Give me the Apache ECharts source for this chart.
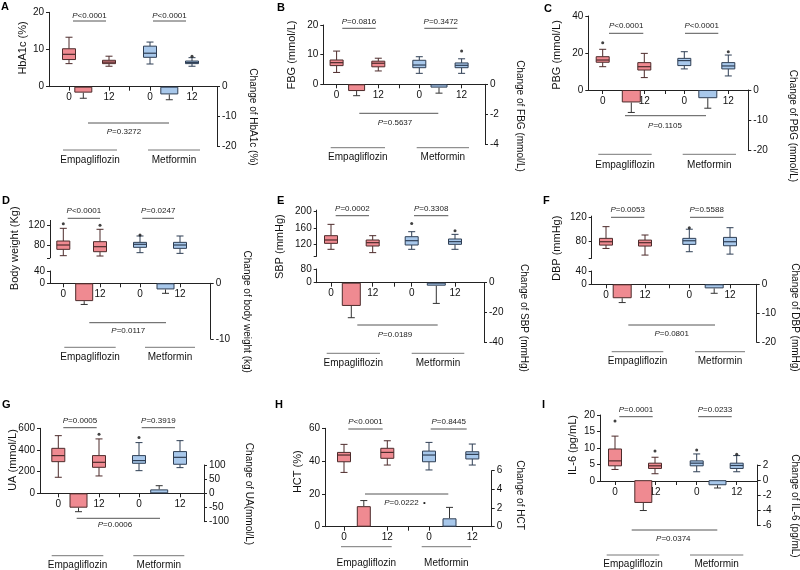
<!DOCTYPE html>
<html>
<head>
<meta charset="utf-8">
<script src="https://cdn.jsdelivr.net/npm/echarts@6/dist/echarts.min.js"></script>
<style>
html,body{margin:0;padding:0;background:#fff;}
#chart{width:800px;height:570px;}
</style>
</head>
<body>
<div id="chart"></div>
<script>
// ---------------- DATA ----------------
const weeks = ['0', '12'];
const groups = ['Empagliflozin', 'Metformin'];

// box data per panel: [min, Q1, median, Q3, max] for Empa 0, Empa 12, Met 0, Met 12
const hba1cBox = [[6.2,7.3,8.7,10.2,13.3],[5.5,6.2,6.6,7.1,8.2],[6.1,7.9,9.0,10.9,12.0],[5.5,6.2,6.5,6.9,7.8]];
const hba1cOut = [[3,8.2]];
const hba1cChange = [-2.0,-2.6];
const hba1cSD = [1.9,1.8];
const hba1cP = ['<0.0001','<0.0001','=0.3272'];

const fbgBox = [[4.0,6.3,7.3,8.2,11.2],[4.5,5.9,7.1,7.8,8.8],[3.7,5.6,6.5,8.1,9.3],[3.7,5.6,6.4,7.2,8.6]];
const fbgOut = [[3,11.2]];
const fbgChange = [-0.45,-0.22];
const fbgSD = [0.31,0.37];
const fbgP = ['=0.0816','=0.3472','=0.5637'];

const pbgBox = [[12.6,15.0,16.2,18.0,22.0],[6.7,10.8,12.6,14.8,19.8],[11.4,13.2,15.9,17.1,20.7],[7.6,11.4,13.0,14.8,18.9]];
const pbgOut = [[0,25.6],[3,20.7]];
const pbgChange = [-4.1,-2.7];
const pbgSD = [3.3,3.3];
const pbgP = ['<0.0001','<0.0001','=0.1105'];

const weightBox = [[58.3,71.2,80,88.1,113.9],[57.6,66.4,76.6,86.8,111.9],[64.4,75.3,81.4,85.4,98.3],[63,73.2,80,85.4,98.3]];
const weightOut = [[0,123.4],[1,120],[2,100.3]];
const weightChange = [-3.2,-1.1];
const weightSD = [0.6,0.7];
const weightP = ['<0.0001','=0.0247','=0.0117'];

const sbpBox = [[106.8,121.6,129.9,140.6,168.7],[98.6,115,123.3,129.9,140.6],[106.8,117.5,128.2,138.1,150.5],[106.8,119.2,125.8,132.4,143.9]];
const sbpOut = [[2,171.1],[3,153]];
const sbpChange = [-15.6,-2.0];
const sbpSD = [7.9,11.9];
const sbpP = ['=0.0002','=0.3308','=0.0189'];

const dbpBox = [[69.0,74.5,80,85.5,104.7],[58.1,72.9,78.4,82.7,91],[63.6,75.6,81.6,85.5,100.5],[59.7,73.4,80,87.1,103]];
const dbpOut = [[2,102.8]];
const dbpChange = [-4.8,-1.4];
const dbpSD = [1.5,1.7];
const dbpP = ['=0.0053','=0.5588','=0.0801'];

const uaBox = [[148,292,348,415,532],[160,240,286,348,502],[209,277,302,348,468],[237,268,332,385,486]];
const uaOut = [[1,545],[2,514]];
const uaChange = [-50.6,14];
const uaSD = [14.1,13];
const uaP = ['=0.0005','=0.3919','=0.0006'];

const hctBox = [[33.1,39.6,43.7,45.3,50.2],[37.6,41.7,45.3,47.8,52.4],[34.6,39.6,43.7,46.1,51.4],[37.6,41.3,44.1,45.7,50.4]];
const hctOut = [];
const hctChange = [2.2,0.9];
const hctSD = [0.6,1.17];
const hctP = ['<0.0001','=0.8445','=0.0222'];

const il6Box = [[3.5,4.6,6.1,9.7,13.6],[2.2,3.8,4.6,5.4,7.2],[2.8,4.6,5.4,6.1,8.2],[2.8,3.8,4.7,5.4,7.7]];
const il6Out = [[0,18.2],[1,9.1],[2,9.4],[3,8.1]];
const il6Change = [-3.0,-0.67];
const il6SD = [1.0,0.36];
const il6P = ['=0.0001','=0.0233','=0.0374'];

// ---------------- LAYOUT / STYLE ----------------
const FONT = '"Liberation Sans", Arial, Helvetica, sans-serif';
const AX = '#222';
const EMPA_FILL = '#ef8a91', EMPA_STROKE = '#4d2b2b';
const MET_FILL = '#a8c8eb', MET_STROKE = '#2f3f55';

const panels = [
 {letter:'A', lp:[1,1], xL:49, xR:217, xs:[20,34.3,60,80.3,101,120.3,143],
  segs:[{min:0,max:20,top:12.3,bot:86.7,interval:10}], bar:{min:-20,max:0,top:86.7,bot:146,interval:10}, barW:18,
  yTitle:['HbA1c (%)',23,48], rTitle:['Change of HbA1c (%)',253,117],
  pTop:{ty:16,ly:21,segs:[[73,106],[153,186]]}, pBot:{ly:123,x:[88,169],ty:132,tx:124},
  grp:{ly:150,ty:160,segs:[[63,117],[148,200]]},
  box:hba1cBox, out:hba1cOut, chg:hba1cChange, sd:hba1cSD, p:hba1cP},
 {letter:'B', lp:[277,2], xL:323.3, xR:485, xs:[13.3,33.3,55,75.7,96,115.7,138.3],
  segs:[{min:0,max:20,top:25,bot:84.3,interval:10}], bar:{min:-4,max:0,top:84.3,bot:144.3,interval:2}, barW:17,
  yTitle:['FBG (mmol/L)',291.7,55], rTitle:['Change of FBG (mmol/L)',520,116],
  pTop:{ty:21.7,ly:28.3,segs:[[342.3,375.7],[424.3,457.3]]}, pBot:{ly:113.3,x:[359.3,438.3],ty:122.3,tx:395},
  grp:{ly:147.7,ty:157.7,segs:[[330.7,385],[416.7,469]]},
  box:fbgBox, out:fbgOut, chg:fbgChange, sd:fbgSD, p:fbgP},
 {letter:'C', lp:[544,3], xL:588.3, xR:748.3, xs:[14.4,43,56,76.7,96,119.5,140],
  segs:[{min:0,max:40,top:16,bot:90,interval:20}], bar:{min:-20,max:0,top:90,bot:150.7,interval:10}, barW:19,
  yTitle:['PBG (mmol/L)',556.7,55], rTitle:['Change of PBG (mmol/L)',793,126],
  pTop:{ty:26,ly:33.3,segs:[[609,643.3],[685,718.3]]}, pBot:{ly:115.7,x:[625,706],ty:125.7,tx:665},
  grp:{ly:154.3,ty:165,segs:[[598.3,651.7],[682.7,736]]},
  box:pbgBox, out:pbgOut, chg:pbgChange, sd:pbgSD, p:pbgP},
 {letter:'D', lp:[2,195], xL:50, xR:210.7, xs:[13.3,34.2,50,70.7,90,115.5,130],
  segs:[{min:54,max:130,top:220.4,bot:257.8,ticks:[54,80,120],labels:[80,120]},{min:0,max:40,top:271,bot:283.3,interval:40}],
  bar:{min:-10,max:0,top:283.3,bot:339,interval:10}, barW:18,
  yTitle:['Body weight (Kg)',15,248.3], rTitle:['Change of body weight (kg)',246.7,311.7],
  pTop:{ty:211,ly:218.3,segs:[[67.7,100],[142.3,174]]}, pBot:{ly:322.7,x:[89.3,166],ty:330.7,tx:128.3},
  grp:{ly:347.3,ty:357.3,segs:[[64.3,115.7],[145,195]]},
  box:weightBox, out:weightOut, chg:weightChange, sd:weightSD, p:weightP},
 {letter:'E', lp:[277,195], xL:316.7, xR:484, xs:[14.3,34.6,56,77.3,95,119.6,138.3],
  segs:[{min:90,max:204,top:210.1,bot:256.1,ticks:[90,120,160,200],labels:[120,160,200]},{min:0,max:80,top:269,bot:282.7,interval:80}],
  bar:{min:-40,max:0,top:282.7,bot:342.3,interval:20}, barW:19,
  yTitle:['SBP (mmHg)',280,246.7], rTitle:['Change of SBP (mmHg)',523.3,318],
  pTop:{ty:208.3,ly:215.7,segs:[[335.7,369],[414,448.3]]}, pBot:{ly:325,x:[357.3,437.7],ty:334.3,tx:395},
  grp:{ly:353.3,ty:363.3,segs:[[326.7,380],[411.7,464.3]]},
  box:sbpBox, out:sbpOut, chg:sbpChange, sd:sbpSD, p:sbpP},
 {letter:'F', lp:[543,195], xL:591.7, xR:756.7, xs:[14.3,30.5,53.3,77.6,97.6,122.5,138.3],
  segs:[{min:53,max:122,top:216.1,bot:258.2,ticks:[53,80,120],labels:[80,120]},{min:0,max:40,top:271,bot:284.3,interval:40}],
  bar:{min:-20,max:0,top:284.3,bot:342.3,interval:10}, barW:19,
  yTitle:['DBP (mmHg)',556.7,248.3], rTitle:['Change of DBP (mmHg)',795,317.5],
  pTop:{ty:210,ly:217.3,segs:[[611,644.3],[690,723.3]]}, pBot:{ly:325,x:[628.3,715],ty:333.3,tx:671.7},
  grp:{ly:351.7,ty:361.7,segs:[[611.7,663.3],[695,745]]},
  box:dbpBox, out:dbpOut, chg:dbpChange, sd:dbpSD, p:dbpP},
 {letter:'G', lp:[2,399], xL:40, xR:204, xs:[18.3,38.5,59,79.3,99,119.2,140],
  segs:[{min:0,max:600,top:428.3,bot:493.3,interval:200}], bar:{min:-100,max:100,top:465,bot:521.7,interval:50}, barW:18,
  yTitle:['UA (mmol/L)',13.3,460], rTitle:['Change of UA(mmol/L)',248.3,494],
  pTop:{ty:421,ly:427.7,segs:[[63.3,96.7],[141.7,175]]}, pBot:{ly:518.3,x:[76.7,160],ty:525,tx:115},
  grp:{ly:555.7,ty:565.7,segs:[[51.7,103.3],[133.3,184.3]]},
  box:uaBox, out:uaOut, chg:uaChange, sd:uaSD, p:uaP},
 {letter:'H', lp:[275,399], xL:325, xR:491.7, xs:[19,38.8,62.3,83.3,104,124.5,147.3],
  segs:[{min:0,max:60,top:428.3,bot:526.7,interval:20}], bar:{min:0,max:6,top:470.7,bot:526.7,interval:2}, barW:14,
  yTitle:['HCT (%)',298.3,471.7], rTitle:['Change of HCT',520,495],
  pTop:{ty:421.7,ly:429,segs:[[348.3,382.7],[430.7,466.7]]}, pBot:{ly:494,x:[365,448.3],ty:502.7,tx:405,suffix:'  \u2022'},
  grp:{ly:546.7,ty:563.3,segs:[[341,391.7],[421.7,471]]},
  box:hctBox, out:hctOut, chg:hctChange, sd:hctSD, p:hctP},
 {letter:'I', lp:[542,399], xL:600, xR:757.7, xs:[15,43.3,55,76.7,96.7,117.5,136.7],
  segs:[{min:0,max:20,top:415,bot:481,interval:5}], bar:{min:-6,max:2,top:465,bot:525.7,interval:2}, barW:18,
  yTitle:['IL-6 (pg/mL)',573.3,445], rTitle:['Change of IL-6 (pg/mL)',795,506],
  pTop:{ty:409.3,ly:416.7,segs:[[619.3,652.7],[698.3,731.7]]}, pBot:{ly:530,x:[631.7,717.3],ty:539,tx:673.3},
  grp:{ly:555,ty:564.3,segs:[[606.7,659.3],[690,743.3]]},
  box:il6Box, out:il6Out, chg:il6Change, sd:il6SD, p:il6P}
];

// ---------------- BUILD ----------------
const option = {animation:false, backgroundColor:'#fff', textStyle:{fontFamily:FONT},
  grid:[], xAxis:[], yAxis:[], series:[], graphic:[]};

function addGrid(left, width, top, height){
  option.grid.push({left:left, top:top, width:width, height:height, containLabel:false, show:false});
  return option.grid.length - 1;
}
function xHidden(g, W){
  return {gridIndex:g, type:'value', min:0, max:W, show:false, splitLine:{show:false}};
}
function xShown(g, W, xs){
  const lab = [xs[0], xs[2], xs[4], xs[6]];
  return {gridIndex:g, type:'value', min:0, max:W, position:'bottom',
    axisLine:{show:true, onZero:false, lineStyle:{color:AX, width:1}},
    axisTick:{show:true, length:4, customValues:[xs[0],xs[2],xs[3],xs[4],xs[6]], lineStyle:{color:AX, width:1}},
    axisLabel:{show:true, customValues:lab, fontSize:10, color:'#111', margin:6, fontFamily:FONT,
      formatter:function(v){ return (Math.abs(v-xs[0])<1e-6 || Math.abs(v-xs[4])<1e-6) ? weeks[0] : weeks[1]; }},
    splitLine:{show:false}};
}
function numFmt(v){ v = Number(v); return v < 0 ? '-' + String(Math.abs(v)) : String(v); }
function yDef(g, s, pos){
  const a = {gridIndex:g, type:'value', position:pos, min:s.min, max:s.max,
    axisLine:{show:true, onZero:false, lineStyle:{color:AX, width:1}},
    axisTick:{show:true, length:3, lineStyle:{color:AX, width:1}},
    axisLabel:{show:true, fontSize:10, color:'#111', margin:5, fontFamily:FONT, formatter:numFmt},
    splitLine:{show:false}};
  if (s.ticks){ a.axisTick.customValues = s.ticks; a.axisLabel.customValues = s.labels; }
  else { a.interval = s.interval; }
  return a;
}
function boxRender(fill, stroke){
  return function(params, api){
    const x = api.value(0);
    const p = [1,2,3,4,5].map(function(i){ return api.coord([x, api.value(i)]); });
    const cx = p[0][0], hw = 6.5, cw = 3.5;
    const ls = {stroke:stroke, lineWidth:1};
    return {type:'group', children:[
      {type:'line', shape:{x1:cx,y1:p[4][1],x2:cx,y2:p[3][1]}, style:ls},
      {type:'line', shape:{x1:cx,y1:p[1][1],x2:cx,y2:p[0][1]}, style:ls},
      {type:'line', shape:{x1:cx-cw,y1:p[4][1],x2:cx+cw,y2:p[4][1]}, style:ls},
      {type:'line', shape:{x1:cx-cw,y1:p[0][1],x2:cx+cw,y2:p[0][1]}, style:ls},
      {type:'rect', shape:{x:cx-hw,y:p[3][1],width:2*hw,height:p[1][1]-p[3][1]}, style:{fill:fill, stroke:stroke, lineWidth:1}},
      {type:'line', shape:{x1:cx-hw,y1:p[2][1],x2:cx+hw,y2:p[2][1]}, style:{stroke:stroke, lineWidth:1.2}}
    ]};
  };
}
function errRender(params, api){
  const x = api.value(0);
  const a = api.coord([x, api.value(1)]);
  const b = api.coord([x, api.value(2)]);
  const cw = 3.5, ls = {stroke:'#333', lineWidth:1};
  return {type:'group', children:[
    {type:'line', shape:{x1:a[0],y1:a[1],x2:b[0],y2:b[1]}, style:ls},
    {type:'line', shape:{x1:b[0]-cw,y1:b[1],x2:b[0]+cw,y2:b[1]}, style:ls}
  ]};
}
function txt(text, x, y, size, opts){
  opts = opts || {};
  const el = {type:'text', x:x, y:y, rotation:opts.rot || 0, silent:true, z:10,
    style:{text:text, fontSize:size, fontFamily:FONT, fontWeight:opts.bold?'bold':'normal', fill:opts.color||'#111',
      textAlign:opts.align||'center', textVerticalAlign:opts.valign||'middle',
      align:opts.align||'center', verticalAlign:opts.valign||'middle'}};
  if (opts.rich) el.style.rich = opts.rich;
  option.graphic.push(el);
}
function hline(x1, x2, y, color){
  option.graphic.push({type:'line', silent:true, z:10, shape:{x1:x1,y1:y,x2:x2,y2:y}, style:{stroke:color||'#555', lineWidth:1}});
}
function pText(v){ return '{i|P}' + v; }
const pRich = {i:{fontStyle:'italic', fontSize:8, fontFamily:FONT, fill:'#222'}};

panels.forEach(function(c){
  const W = c.xR - c.xL;
  const segGrids = c.segs.map(function(s){ return addGrid(c.xL, W, s.top, s.bot - s.top); });
  segGrids.forEach(function(g, i){
    option.xAxis.push(i === c.segs.length - 1 ? xShown(g, W, c.xs) : xHidden(g, W));
    option.yAxis.push(yDef(g, c.segs[i], 'left'));
  });
  const bg = segGrids[0];
  const barG = addGrid(c.xL, W, c.bar.top, c.bar.bot - c.bar.top);
  option.xAxis.push(xHidden(barG, W));
  option.yAxis.push(yDef(barG, c.bar, 'right'));

  const boxX = [c.xs[0], c.xs[2], c.xs[4], c.xs[6]];
  const barX = [c.xs[1], c.xs[5]];

  option.series.push({type:'custom', name:groups[0], xAxisIndex:bg, yAxisIndex:bg,
    renderItem:boxRender(EMPA_FILL, EMPA_STROKE), encode:{x:0, y:[1,2,3,4,5]},
    data:[[boxX[0]].concat(c.box[0]), [boxX[1]].concat(c.box[1])], z:3});
  option.series.push({type:'custom', name:groups[1], xAxisIndex:bg, yAxisIndex:bg,
    renderItem:boxRender(MET_FILL, MET_STROKE), encode:{x:0, y:[1,2,3,4,5]},
    data:[[boxX[2]].concat(c.box[2]), [boxX[3]].concat(c.box[3])], z:3});
  option.series.push({type:'scatter', xAxisIndex:bg, yAxisIndex:bg, symbolSize:3,
    itemStyle:{color:'#111'}, data:c.out.map(function(o){ return [boxX[o[0]], o[1]]; }), z:4});
  option.series.push({type:'bar', xAxisIndex:barG, yAxisIndex:barG, barWidth:c.barW,
    data:[
      {value:[barX[0], c.chg[0]], itemStyle:{color:EMPA_FILL, borderColor:EMPA_STROKE, borderWidth:1}},
      {value:[barX[1], c.chg[1]], itemStyle:{color:MET_FILL, borderColor:MET_STROKE, borderWidth:1}}
    ], z:2});
  option.series.push({type:'custom', xAxisIndex:barG, yAxisIndex:barG, renderItem:errRender, encode:{x:0, y:[1,2]},
    data:c.chg.map(function(m, i){ return [barX[i], m, m + (m < 0 ? -c.sd[i] : c.sd[i])]; }), z:2});

  txt(c.letter, c.lp[0], c.lp[1], 11, {bold:true, align:'left', valign:'top', color:'#000'});
  txt(c.yTitle[0], c.yTitle[1], c.yTitle[2], 11, {rot:Math.PI/2});
  txt(c.rTitle[0], c.rTitle[1], c.rTitle[2], 10, {rot:-Math.PI/2});
  c.pTop.segs.forEach(function(s, i){
    hline(s[0], s[1], c.pTop.ly, '#555');
    txt(pText(c.p[i]), (s[0]+s[1])/2, c.pTop.ty, 8, {rich:pRich, color:'#222'});
  });
  hline(c.pBot.x[0], c.pBot.x[1], c.pBot.ly, '#555');
  txt(pText(c.p[2]) + (c.pBot.suffix || ''), c.pBot.tx, c.pBot.ty, 8, {rich:pRich, color:'#222'});
  c.grp.segs.forEach(function(s, i){
    hline(s[0], s[1], c.grp.ly, '#777');
    txt(groups[i], (s[0]+s[1])/2, c.grp.ty, 10);
  });
});

const chart = echarts.init(document.getElementById('chart'), null, {renderer:'canvas'});
chart.setOption(option);
</script>
</body>
</html>
